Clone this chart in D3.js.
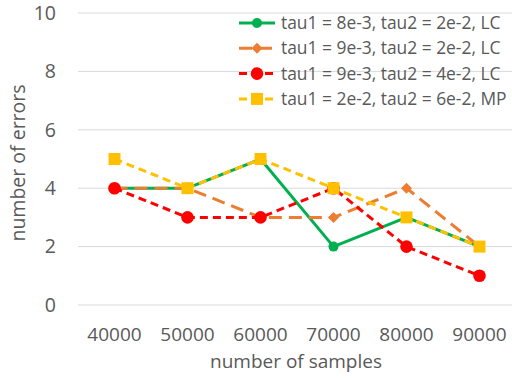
<!DOCTYPE html>
<html>
<head>
<meta charset="utf-8">
<script src="https://cdn.jsdelivr.net/npm/d3@7"></script>
<style>
  html, body { margin: 0; padding: 0; background: #fff; }
  svg { display: block; font-family: "Open Sans", sans-serif; }
</style>
</head>
<body>
<svg id="chart" width="512" height="379"></svg>
<script>
// Sample sizes on the x axis
const categories = ["40000", "50000", "60000", "70000", "80000", "90000"];
const yTicks = [0, 2, 4, 6, 8, 10];

// Error counts per parameter setting
const seriesGreen  = [4, 4, 5, 2, 3, 2];
const seriesOrange = [4, 4, 3, 3, 4, 2];
const seriesRed    = [4, 3, 3, 4, 2, 1];
const seriesYellow = [5, 4, 5, 4, 3, 2];

const seriesNames = [
  "tau1 = 8e-3, tau2 = 2e-2, LC",
  "tau1 = 9e-3, tau2 = 2e-2, LC",
  "tau1 = 9e-3, tau2 = 4e-2, LC",
  "tau1 = 2e-2, tau2 = 6e-2, MP"
];

const series = [
  { name: seriesNames[0], values: seriesGreen,  color: "#00B050", dash: null,   marker: "circle",  size: 5 },
  { name: seriesNames[1], values: seriesOrange, color: "#ED7D31", dash: "13,7", marker: "diamond", size: 5.5 },
  { name: seriesNames[2], values: seriesRed,    color: "#FF0000", dash: "8,5",  marker: "circle",  size: 6.3 },
  { name: seriesNames[3], values: seriesYellow, color: "#FFC000", dash: "8,5",  marker: "square",  size: 6 }
];

const svg = d3.select("#chart");
const W = 512;
const textColor = "#595959";

const x = d3.scalePoint().domain(categories).range([78, 516]).padding(0.5);
const y = d3.scaleLinear().domain([0, 10]).range([305, 13]);

// Horizontal gridlines
svg.append("g").selectAll("line").data(yTicks).join("line")
  .attr("x1", 78).attr("x2", W)
  .attr("y1", d => y(d)).attr("y2", d => y(d))
  .attr("stroke", "#d9d9d9").attr("stroke-width", 1);

// Y tick labels
svg.append("g").selectAll("text").data(yTicks).join("text")
  .attr("x", 56).attr("y", d => y(d))
  .attr("dy", "0.35em")
  .attr("text-anchor", "end")
  .attr("font-size", 19.5)
  .attr("fill", textColor)
  .text(d => d);

// X tick labels
svg.append("g").selectAll("text").data(categories).join("text")
  .attr("x", d => x(d)).attr("y", 341)
  .attr("text-anchor", "middle")
  .attr("font-size", 19)
  .attr("fill", textColor)
  .text(d => d);

// Axis titles
svg.append("text")
  .attr("x", 296).attr("y", 368)
  .attr("text-anchor", "middle")
  .attr("font-size", 19)
  .attr("fill", textColor)
  .text("number of samples");

svg.append("text")
  .attr("transform", "translate(25,163) rotate(-90)")
  .attr("text-anchor", "middle")
  .attr("font-size", 19.5)
  .attr("fill", textColor)
  .text("number of errors");

function drawMarker(g, type, cx, cy, r, color) {
  if (type === "circle") {
    g.append("circle").attr("cx", cx).attr("cy", cy).attr("r", r).attr("fill", color);
  } else if (type === "square") {
    g.append("rect").attr("x", cx - r).attr("y", cy - r).attr("width", 2 * r).attr("height", 2 * r).attr("fill", color);
  } else if (type === "diamond") {
    g.append("path")
      .attr("d", `M${cx},${cy - r}L${cx + r},${cy}L${cx},${cy + r}L${cx - r},${cy}Z`)
      .attr("fill", color);
  }
}

const line = d3.line().x((d, i) => x(categories[i])).y(d => y(d));

// Series lines with markers
series.forEach(s => {
  const g = svg.append("g");
  g.append("path")
    .attr("d", line(s.values))
    .attr("fill", "none")
    .attr("stroke", s.color)
    .attr("stroke-width", 3)
    .attr("stroke-dasharray", s.dash)
    .attr("stroke-linejoin", "round");
  s.values.forEach((v, i) => drawMarker(g, s.marker, x(categories[i]), y(v), s.size, s.color));
});

// Legend
const legend = svg.append("g");
series.forEach((s, i) => {
  const ly = 23 + i * 25.3;
  const g = legend.append("g");
  g.append("line")
    .attr("x1", 239).attr("x2", 275).attr("y1", ly).attr("y2", ly)
    .attr("stroke", s.color).attr("stroke-width", 3)
    .attr("stroke-dasharray", s.dash);
  drawMarker(g, s.marker, 257, ly, s.size, s.color);
  g.append("text")
    .attr("x", 281).attr("y", ly).attr("dy", "0.35em")
    .attr("font-size", 17.4)
    .attr("fill", textColor)
    .text(s.name);
});
</script>
</body>
</html>
